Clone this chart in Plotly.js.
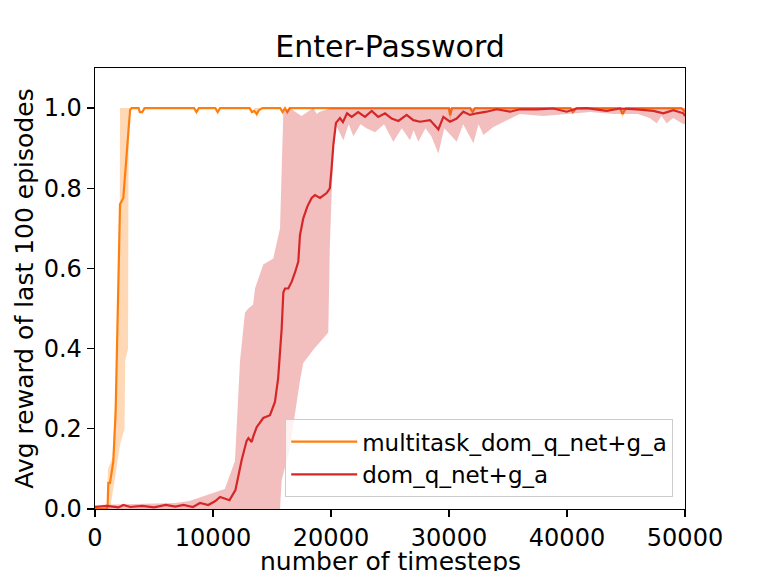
<!DOCTYPE html>
<html>
<head>
<meta charset="utf-8">
<script src="https://cdn.plot.ly/plotly-3.0.1.min.js"></script>
<style>
  html, body { margin: 0; padding: 0; background: #fff; }
  #chart { width: 761px; height: 571px; }
</style>
</head>
<body>
<div id="chart"></div>
<script>
// values (timesteps, avg reward)
const multiMeanX = [0, 1000, 1070, 1130, 1270, 1550, 1750, 1920, 2120, 2400, 2600, 2770, 2970, 3100, 3700, 3800, 4000, 4200, 8400, 8600, 8800, 10200, 10400, 10600, 13100, 13300, 13500, 13700, 13900, 14200, 15700, 15900, 16100, 16300, 16500, 30000, 30100, 30250, 31800, 32000, 32200, 40300, 40500, 40800, 44500, 44700, 45000, 49700, 50000];
const multiMean  = [0, 0, 0.01, 0.065, 0.065, 0.118, 0.243, 0.45, 0.76, 0.776, 0.85, 0.93, 0.995, 1.0, 1.0, 0.99, 0.99, 1.0, 1.0, 0.99, 1.0, 1.0, 0.99, 1.0, 1.0, 0.99, 0.993, 0.985, 0.995, 1.0, 1.0, 0.99, 1.0, 0.99, 1.0, 1.0, 0.982, 1.0, 1.0, 0.99, 1.0, 1.0, 0.99, 1.0, 1.0, 0.985, 1.0, 1.0, 0.99];

const multiHighX = [0, 1000, 1100, 1500, 1750, 1950, 2100, 2120, 50000];
const multiHigh  = [0, 0, 0.1, 0.13, 0.3, 0.5, 0.76, 1.0, 1.0];
const multiLowX  = [0, 1270, 1690, 2120, 2500, 2560, 2800, 2850, 3100, 13500, 13700, 14000, 29900, 30100, 30300, 44500, 44700, 45000, 49700, 50000];
const multiLow   = [0, 0, 0.077, 0.16, 0.2, 0.37, 0.4, 0.99, 1.0, 1.0, 0.975, 1.0, 1.0, 0.965, 1.0, 1.0, 0.975, 1.0, 1.0, 0.985];

const domMeanX = [0, 1000, 2000, 2400, 3000, 4000, 5000, 6000, 6800, 7500, 8300, 8900, 9600, 10200, 10600, 11000, 11400, 11900, 12200, 12430, 12850, 13000, 13280, 13400, 13700, 14260, 14830, 15250, 15520, 15820, 15960, 16100, 16380, 16670, 16950, 17230, 17370, 17650, 18000, 18360, 18640, 19070, 19630, 19900, 20050, 20200, 20420, 20760, 21010, 21360, 21750, 22300, 22880, 23450, 24000, 24580, 25140, 25710, 26410, 26970, 27540, 28390, 29100, 29520, 30080, 30650, 31210, 31780, 32350, 33190, 34040, 35170, 36020, 37430, 38840, 39970, 40820, 41670, 43360, 44500, 45900, 47310, 48160, 49010, 49860, 50000];
const domMean  = [0.005, 0.008, 0.004, 0.01, 0.005, 0.008, 0.004, 0.01, 0.006, 0.01, 0.005, 0.015, 0.01, 0.02, 0.03, 0.025, 0.022, 0.047, 0.09, 0.122, 0.17, 0.177, 0.167, 0.18, 0.204, 0.227, 0.234, 0.267, 0.326, 0.45, 0.54, 0.55, 0.55, 0.567, 0.59, 0.617, 0.683, 0.725, 0.755, 0.776, 0.783, 0.776, 0.788, 0.8, 0.85, 0.908, 0.963, 0.975, 0.965, 0.987, 0.978, 0.99, 0.978, 0.993, 0.978, 0.987, 0.974, 0.968, 0.983, 0.97, 0.966, 0.97, 0.947, 0.978, 0.966, 0.974, 0.991, 0.983, 0.987, 0.991, 0.997, 0.991, 0.997, 0.997, 0.999, 0.991, 0.999, 1.0, 0.993, 0.999, 0.997, 0.993, 0.987, 0.995, 0.987, 0.98];

const domHighX = [0, 3000, 6800, 8000, 9000, 10000, 11000, 11860, 12290, 12710, 13000, 13400, 13560, 14260, 15110, 15680, 15820, 15960, 16500, 17500, 18500, 18800, 19000, 20000, 50000];
const domHigh  = [0.01, 0.012, 0.015, 0.02, 0.03, 0.04, 0.05, 0.12, 0.37, 0.49, 0.5, 0.51, 0.55, 0.61, 0.625, 0.7, 0.866, 0.99, 1.0, 0.98, 1.0, 0.985, 0.99, 1.0, 1.0];
const domLowX  = [0, 15680, 15820, 16500, 17370, 17650, 18500, 19770, 19900, 20070, 20340, 21050, 21500, 21900, 22500, 23000, 23730, 24500, 25280, 26000, 26690, 27000, 27400, 28000, 28500, 29100, 29600, 30650, 31200, 32070, 32500, 32920, 33760, 35000, 36000, 38000, 40000, 42000, 44000, 46000, 47000, 47600, 48000, 48450, 49000, 49720, 50000];
const domLow   = [0, 0, 0.072, 0.15, 0.32, 0.364, 0.397, 0.44, 0.654, 0.8, 0.962, 0.92, 0.96, 0.93, 0.96, 0.95, 0.94, 0.96, 0.916, 0.95, 0.92, 0.945, 0.916, 0.95, 0.93, 0.887, 0.95, 0.916, 0.96, 0.912, 0.96, 0.933, 0.953, 0.97, 0.985, 0.98, 0.985, 0.99, 0.985, 0.985, 0.975, 0.962, 0.98, 0.962, 0.975, 0.962, 0.96];

const xTicks = [0, 10000, 20000, 30000, 40000, 50000];
const yTicks = [0, 0.2, 0.4, 0.6, 0.8, 1.0];

function band(hx, hy, lx, ly, color) {
  // polygon: upper edge forward, lower edge back
  return {
    x: hx.concat(lx.slice().reverse()),
    y: hy.concat(ly.slice().reverse()),
    mode: 'lines',
    fill: 'toself',
    fillcolor: color,
    line: {width: 0},
    hoverinfo: 'skip',
    showlegend: false,
    type: 'scatter'
  };
}

const font = 'DejaVu Sans, sans-serif';

const traces = [
  band(multiHighX, multiHigh, multiLowX, multiLow, 'rgba(255,127,14,0.3)'),
  {x: multiMeanX, y: multiMean, mode: 'lines', name: 'multitask_dom_q_net+g_a',
   line: {color: '#ff7f0e', width: 2.2}, type: 'scatter'},
  band(domHighX, domHigh, domLowX, domLow, 'rgba(214,39,40,0.3)'),
  {x: domMeanX, y: domMean, mode: 'lines', name: 'dom_q_net+g_a',
   line: {color: '#d62728', width: 2.2}, type: 'scatter'}
];

const axisCommon = {
  showgrid: false,
  zeroline: false,
  showline: true,
  mirror: true,
  linecolor: '#000',
  linewidth: 1.3,
  ticks: 'outside',
  ticklen: 7,
  tickwidth: 1.3,
  tickcolor: '#000',
  tickfont: {family: font, size: 24, color: '#000'}
};

const layout = {
  width: 761,
  height: 571,
  margin: {l: 95, r: 76, t: 68, b: 62},
  paper_bgcolor: '#fff',
  plot_bgcolor: '#fff',
  title: {text: 'Enter-Password', font: {family: font, size: 30, color: '#000'},
          x: 0.5, xref: 'paper', xanchor: 'center', y: 1 - 57 / 571, yanchor: 'bottom', yref: 'container'},
  xaxis: Object.assign({}, axisCommon, {
    range: [0, 50000],
    tickvals: xTicks,
    ticktext: xTicks.map(String)
  }),
  yaxis: Object.assign({}, axisCommon, {
    range: [0, 1.1],
    tickvals: yTicks,
    ticktext: yTicks.map(v => v.toFixed(1)),
    title: {text: 'Avg reward of last 100 episodes', font: {family: font, size: 25, color: '#000'}, standoff: 3}
  }),
  // x-axis title as annotation so it can sit low, partly clipped like the original
  annotations: [{
    text: 'number of timesteps',
    xref: 'paper', yref: 'paper', x: 0.5, y: -0.12,
    xanchor: 'center', yanchor: 'middle', showarrow: false,
    font: {family: font, size: 25, color: '#000'}
  }],
  legend: {
    x: 0.98, y: 0.027, xanchor: 'right', yanchor: 'bottom',
    bgcolor: 'rgba(255,255,255,0.8)',
    bordercolor: '#cccccc',
    borderwidth: 1,
    font: {family: font, size: 23, color: '#000'},
    itemwidth: 66
  },
  showlegend: true
};

Plotly.newPlot('chart', traces, layout, {staticPlot: true, displayModeBar: false});
</script>
</body>
</html>
